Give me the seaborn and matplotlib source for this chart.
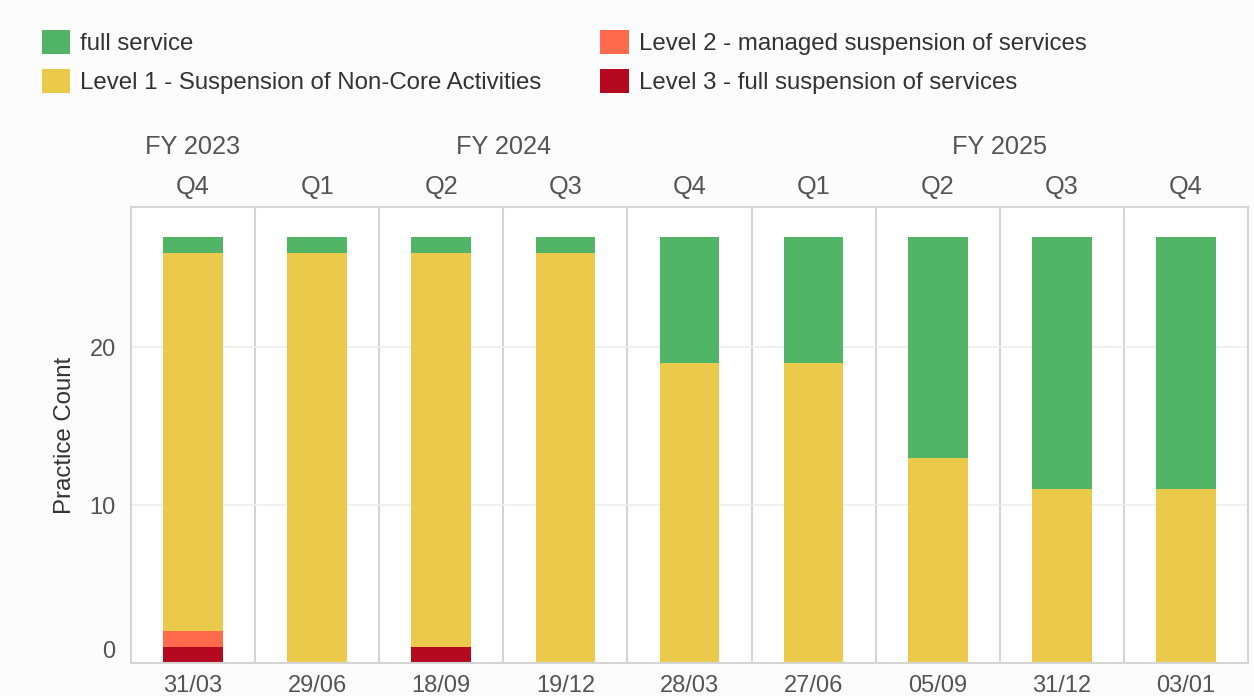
import pandas as pd
import numpy as np
import matplotlib
matplotlib.use("Agg")
import matplotlib.pyplot as plt
import matplotlib.transforms as mtransforms
from matplotlib.patches import Patch
import seaborn as sns

# data
dates = ["31/03", "29/06", "18/09", "19/12", "28/03", "27/06", "05/09", "31/12", "03/01"]
quarters = ["Q4", "Q1", "Q2", "Q3", "Q4", "Q1", "Q2", "Q3", "Q4"]
fiscal_years = ["FY 2023", "FY 2024", "FY 2025"]
fy_spans = [(0, 0), (1, 4), (5, 8)]

level3 = [1, 0, 1, 0, 0, 0, 0, 0, 0]
level2 = [1, 0, 0, 0, 0, 0, 0, 0, 0]
level1 = [24, 26, 25, 26, 19, 19, 13, 11, 11]
full = [1, 1, 1, 1, 8, 8, 14, 16, 16]

labels = ["full service", "Level 1 - Suspension of Non-Core Activities",
          "Level 2 - managed suspension of services", "Level 3 - full suspension of services"]
colors = {"full service": "#52b466",
          "Level 1 - Suspension of Non-Core Activities": "#ebc94a",
          "Level 2 - managed suspension of services": "#ff6a4d",
          "Level 3 - full suspension of services": "#b5091f"}

df = pd.DataFrame({"date": dates, "l3": level3, "l2": level2, "l1": level1, "full": full})

sns.set_theme(style="white")
plt.rcParams['font.family'] = ['Liberation Sans', 'DejaVu Sans']

fig = plt.figure(figsize=(12.54, 6.96), dpi=100, facecolor="#fcfcfc")
ax = fig.add_axes([131/1254, 33/696, 1117/1254, 456/696])
ax.set_facecolor("white")

# stacked bars, bottom layer first
layers = [("l3", labels[3]), ("l2", labels[2]), ("l1", labels[1]), ("full", labels[0])]
bottom = np.zeros(len(dates))
for col, lab in layers:
    sns.barplot(data=df, x="date", y=col, color=colors[lab], width=0.48,
                bottom=bottom, ax=ax, saturation=1, linewidth=0)
    bottom = bottom + df[col].values

ax.set_ylim(0, 28.9)
ax.set_xlim(-0.5, len(dates) - 0.5)
ax.set_yticks([0, 10, 20])
ax.yaxis.grid(True, color="#eeeeee", linewidth=1.2)
ax.set_axisbelow(True)
for i in range(len(dates) - 1):
    ax.axvline(i + 0.5, color="#d4d4d4", linewidth=1.5, zorder=0.5)
for s in ax.spines.values():
    s.set_color("#d4d4d4")
    s.set_linewidth(1.5)

ax.set_xlabel("")
ax.set_ylabel("Practice Count", fontsize=17.3, color="#333333", labelpad=9.5)
ax.tick_params(axis="x", length=0, pad=9, labelsize=17, labelcolor="#555555")
ax.tick_params(axis="y", length=0, pad=11, labelsize=17, labelcolor="#555555")
for t in ax.get_yticklabels():
    if t.get_text() == "0":
        t.set_va("bottom")

# header rows: quarters and fiscal years
trans = mtransforms.blended_transform_factory(ax.transData, fig.transFigure)
for i, q in enumerate(quarters):
    ax.text(i, 1 - 187/696, q, transform=trans, ha="center", va="center",
            fontsize=18.3, color="#555555")
for fy, (a, b) in zip(fiscal_years, fy_spans):
    ax.text((a + b) / 2, 1 - 147/696, fy, transform=trans, ha="center", va="center",
            fontsize=18.3, color="#555555")

handles = [Patch(facecolor=colors[l], edgecolor="none", label=l) for l in labels]
fig.legend(handles=handles, loc="upper left", bbox_to_anchor=(20/1254, 1 - 8/696),
           ncol=2, frameon=False, fontsize=17.3, handlelength=1.18, handleheight=1.18,
           handletextpad=0.42, columnspacing=2.45, labelspacing=0.58,
           labelcolor="#333333")

fig.savefig("out.png", dpi=100, facecolor=fig.get_facecolor())
